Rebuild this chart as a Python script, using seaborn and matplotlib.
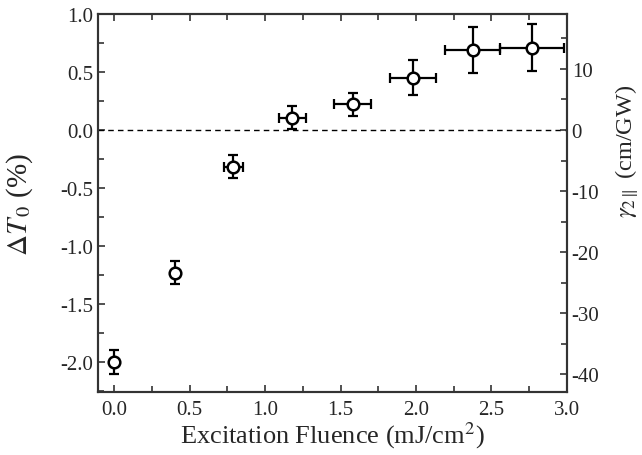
import matplotlib
matplotlib.use("Agg")
import matplotlib.pyplot as plt
from matplotlib.ticker import MultipleLocator, FormatStrFormatter
import seaborn as sns
import pandas as pd

# Data
fluence = [0.0, 0.4, 0.79, 1.18, 1.58, 1.98, 2.375, 2.77]
dT0 = [-2.0, -1.23, -0.315, 0.105, 0.22, 0.45, 0.69, 0.71]
dT0_err = [0.1, 0.1, 0.1, 0.1, 0.1, 0.15, 0.2, 0.2]
fluence_err = [0.0, 0.0, 0.065, 0.09, 0.125, 0.155, 0.185, 0.21]

# right-axis scale: gamma (cm/GW) per % of dT0
gamma_per_dT = 19.0

sns.set_theme(style="ticks")
plt.rcParams["font.family"] = ["Liberation Serif", "DejaVu Serif"]
plt.rcParams["mathtext.fontset"] = "stix"
plt.rcParams["axes.unicode_minus"] = False

df = pd.DataFrame({"x": fluence, "y": dT0})

fig = plt.figure(figsize=(6.42, 4.56), dpi=100)
ax = fig.add_axes([0.153, 0.138, 0.730, 0.829])

ax.axhline(0, color="black", lw=1.0, ls=(0, (4, 3)), zorder=1)
ax.errorbar(fluence, dT0, yerr=dT0_err, xerr=fluence_err, fmt="none",
            ecolor="black", elinewidth=1.6, capsize=3.5, capthick=1.6, zorder=2)
sns.scatterplot(data=df, x="x", y="y", ax=ax, marker="o", s=70,
                facecolor="white", edgecolor="black", linewidth=1.8, zorder=3)

ax.set_xlim(-0.106, 3.0)
ax.set_ylim(-2.26, 1.0)
ax.xaxis.set_major_locator(MultipleLocator(0.5))
ax.xaxis.set_minor_locator(MultipleLocator(0.25))
ax.yaxis.set_major_locator(MultipleLocator(0.5))
ax.yaxis.set_minor_locator(MultipleLocator(0.25))
ax.xaxis.set_major_formatter(FormatStrFormatter("%.1f"))
ax.yaxis.set_major_formatter(FormatStrFormatter("%.1f"))

ax.tick_params(which="both", direction="in", top=True, right=False,
               color="#333333", width=1.2, labelsize=15)
ax.tick_params(which="major", length=5)
ax.tick_params(which="minor", length=4)
ax.tick_params(axis="x", pad=6)

for s in ax.spines.values():
    s.set_linewidth(1.5)
    s.set_color("#333333")

ax.set_xlabel("Excitation Fluence (mJ/cm$^2$)", fontsize=19, labelpad=0)
ax.set_ylabel(r"$\Delta T_{\,0}$ (%)", fontsize=21)
ax.yaxis.set_label_coords(-0.135, 0.5)

ax2 = ax.twinx()
lo, hi = ax.get_ylim()
ax2.set_ylim(lo * gamma_per_dT, hi * gamma_per_dT)
ax2.yaxis.set_major_locator(MultipleLocator(10))
ax2.yaxis.set_minor_locator(MultipleLocator(5))
ax2.tick_params(which="both", direction="in", color="#333333", width=1.2,
                labelsize=15)
ax2.tick_params(which="major", length=5)
ax2.tick_params(which="minor", length=4)
for s in ax2.spines.values():
    s.set_linewidth(1.5)
    s.set_color("#333333")
ax2.set_ylabel(r"$\gamma_{2\parallel}$ (cm/GW)", fontsize=17.5)
ax2.yaxis.set_label_coords(1.098, 0.64)

fig.savefig("out.png", dpi=100)
